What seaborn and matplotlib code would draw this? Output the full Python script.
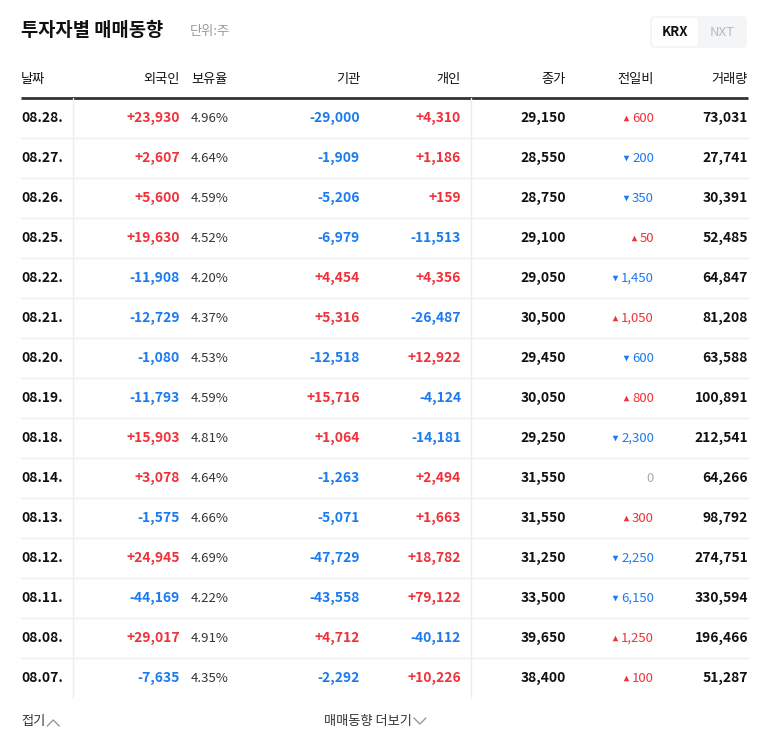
import matplotlib
matplotlib.use("Agg")
import matplotlib.pyplot as plt
import seaborn as sns
from matplotlib.patches import FancyBboxPatch

sns.set_theme(style="white")
plt.rcParams["font.family"] = ["Noto Sans CJK KR", "Noto Sans CJK JP", "Noto Sans CJK SC", "DejaVu Sans"]

dates = ["08.28.","08.27.","08.26.","08.25.","08.22.","08.21.","08.20.","08.19.","08.18.","08.14.","08.13.","08.12.","08.11.","08.08.","08.07."]
foreign = [23930,2607,5600,19630,-11908,-12729,-1080,-11793,15903,3078,-1575,24945,-44169,29017,-7635]
holding = [4.96,4.64,4.59,4.52,4.20,4.37,4.53,4.59,4.81,4.64,4.66,4.69,4.22,4.91,4.35]
inst = [-29000,-1909,-5206,-6979,4454,5316,-12518,15716,1064,-1263,-5071,-47729,-43558,4712,-2292]
indiv = [4310,1186,159,-11513,4356,-26487,12922,-4124,-14181,2494,1663,18782,79122,-40112,10226]
close = [29150,28550,28750,29100,29050,30500,29450,30050,29250,31550,31550,31250,33500,39650,38400]
change = [600,-200,-350,50,-1450,1050,-600,800,-2300,0,300,-2250,-6150,1250,100]
volume = [73031,27741,30391,52485,64847,81208,63588,100891,212541,64266,98792,274751,330594,196466,51287]
headers = ["날짜","외국인","보유율","기관","개인","종가","전일비","거래량"]

RED, BLUE, DARK, GRAY = "#f0313a", "#1a7bf0", "#111111", "#999999"

fig = plt.figure(figsize=(7.68, 7.49), dpi=100)
ax = fig.add_axes([0, 0, 1, 1])
ax.set_xlim(0, 768); ax.set_ylim(749, 0); ax.axis("off")

ax.text(21, 31, "투자자별 매매동향", fontsize=13.5, fontweight="bold", color=DARK, va="center")
ax.text(190, 32, "단위:주", fontsize=9.5, color=GRAY, va="center")
ax.add_patch(FancyBboxPatch((650, 16), 97, 32, boxstyle="round,pad=0,rounding_size=5", fc="#f4f5f7", ec="none"))
ax.add_patch(FancyBboxPatch((652, 18), 46, 28, boxstyle="round,pad=0,rounding_size=4", fc="white", ec="none"))
ax.text(675, 32, "KRX", fontsize=9.5, fontweight="bold", color=DARK, ha="center", va="center")
ax.text(722, 32, "NXT", fontsize=9.5, color="#b5b8bd", ha="center", va="center")

hx = [21, 180, 191, 360, 461, 566, 654, 748]
ha = ["left","right","left","right","right","right","right","right"]
for h, x, a in zip(headers, hx, ha):
    ax.text(x, 80, h, fontsize=9.5, color=DARK, ha=a, va="center")
ax.plot([21, 748], [97.5, 97.5], color="#333333", lw=2, solid_capstyle="butt")

n = len(dates)
for i in range(n - 1):
    y = 118 + 40 * i
    ax.plot([21, 748], [y + 20, y + 20], color="#eeeeee", lw=1)
ax.plot([73, 73], [98, 698], color="#eeeeee", lw=1)
ax.plot([471, 471], [98, 698], color="#eeeeee", lw=1)

def signed(v):
    return (f"+{v:,}" if v > 0 else f"{v:,}"), (RED if v > 0 else BLUE)

fig.canvas.draw()
rend = fig.canvas.get_renderer()
fs = 10
for i in range(n):
    y = 118 + 40 * i
    ax.text(21, y, dates[i], fontsize=fs, fontweight="bold", color=DARK, va="center")
    s, c = signed(foreign[i]); ax.text(180, y, s, fontsize=fs, fontweight="bold", color=c, ha="right", va="center")
    ax.text(191, y, f"{holding[i]:.2f}%", fontsize=fs-0.5, color="#333333", ha="left", va="center")
    s, c = signed(inst[i]); ax.text(360, y, s, fontsize=fs, fontweight="bold", color=c, ha="right", va="center")
    s, c = signed(indiv[i]); ax.text(461, y, s, fontsize=fs, fontweight="bold", color=c, ha="right", va="center")
    ax.text(566, y, f"{close[i]:,}", fontsize=fs, fontweight="bold", color=DARK, ha="right", va="center")
    ch = change[i]
    if ch == 0:
        ax.text(654, y, "0", fontsize=fs-0.5, color="#aaaaaa", ha="right", va="center")
    else:
        c = RED if ch > 0 else BLUE
        t = ax.text(654, y, f"{abs(ch):,}", fontsize=fs-0.5, color=c, ha="right", va="center")
        w = t.get_window_extent(rend).width
        ax.scatter([654 - w - 6], [y], marker="^" if ch > 0 else "v", s=16, color=c, linewidths=0)
    ax.text(748, y, f"{volume[i]:,}", fontsize=fs, fontweight="bold", color=DARK, ha="right", va="center")

t1 = ax.text(21, 721, "접기", fontsize=9.5, color="#333333", va="center")
w1 = t1.get_window_extent(rend).width
ax.plot([21 + w1 + 2, 21 + w1 + 8, 21 + w1 + 14], [726, 720, 726], color="#999999", lw=1)
t2 = ax.text(324, 721, "매매동향 더보기", fontsize=9.5, color="#333333", va="center")
w2 = t2.get_window_extent(rend).width
ax.plot([324 + w2 + 2, 324 + w2 + 8, 324 + w2 + 14], [718, 724, 718], color="#999999", lw=1)

fig.savefig("out.png", dpi=100, facecolor="white")
